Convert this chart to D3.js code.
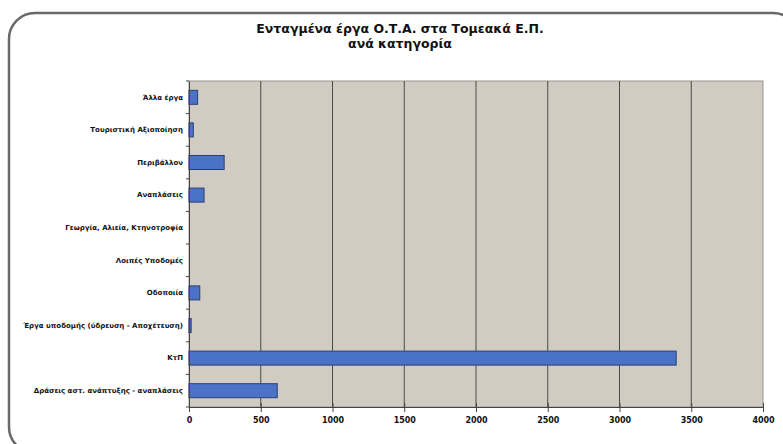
<!DOCTYPE html>
<html><head><meta charset="utf-8">
<script src="https://cdn.jsdelivr.net/npm/d3@7"></script>
<style>body{margin:0;background:#fff}svg{display:block}</style>
</head><body>
<script>
const categories = [
  "Άλλα έργα",
  "Τουριστική Αξιοποίηση",
  "Περιβάλλον",
  "Αναπλάσεις",
  "Γεωργία, Αλιεία, Κτηνοτροφία",
  "Λοιπές Υποδομές",
  "Οδοποιία",
  "Έργα υποδομής (ύδρευση - Αποχέτευση)",
  "ΚτΠ",
  "Δράσεις αστ. ανάπτυξης - αναπλάσεις"
];
const values = [60, 30, 245, 105, 0, 0, 75, 15, 3395, 615];
const xTicks = [0, 500, 1000, 1500, 2000, 2500, 3000, 3500, 4000];
const titleLines = ["Ενταγμένα έργα Ο.Τ.Α. στα Τομεακά Ε.Π.", "ανά κατηγορία"];

const W = 783, H = 444;
const svg = d3.select("body").append("svg").attr("width", W).attr("height", H);
const font = "DejaVu Sans, Verdana, sans-serif";

// outer frame
svg.append("rect").attr("x", 9).attr("y", 13).attr("width", 790).attr("height", 440)
  .attr("rx", 26).attr("ry", 26).attr("fill", "#fff").attr("stroke", "#6a6a6a").attr("stroke-width", 2.5);

const m = {left: 189, right: 763, top: 81, bottom: 407};
const x = d3.scaleLinear().domain([0, 4000]).range([m.left, m.right]);
const y = d3.scaleBand().domain(categories).range([m.top, m.bottom]).paddingInner(0.57).paddingOuter(0.285);

// plot background
svg.append("rect").attr("x", m.left).attr("y", m.top).attr("width", m.right - m.left).attr("height", m.bottom - m.top)
  .attr("fill", "#d0ccc2").attr("stroke", "#9a978f").attr("stroke-width", 1);

// gridlines
svg.append("g").selectAll("line").data(xTicks.slice(1, -1)).join("line")
  .attr("x1", d => x(d)).attr("x2", d => x(d)).attr("y1", m.top).attr("y2", m.bottom)
  .attr("stroke", "#4a4a4a").attr("stroke-width", 1);

// bars
svg.append("g").selectAll("rect").data(categories).join("rect")
  .attr("x", x(0)).attr("y", d => y(d))
  .attr("width", (d, i) => x(values[i]) - x(0)).attr("height", y.bandwidth())
  .attr("fill", "#4a72c6").attr("stroke", "#2b3f78").attr("stroke-width", (d, i) => values[i] > 0 ? 1 : 0);

// x axis
const xAxis = d3.axisBottom(x).tickValues(xTicks).tickSize(5).tickFormat(d3.format("d"));
const gx = svg.append("g").attr("transform", `translate(0,${m.bottom})`).call(xAxis);
gx.select(".domain").attr("stroke", "#444");
gx.selectAll(".tick line").attr("stroke", "#444").attr("y1", -4);
gx.selectAll(".tick text").attr("font-family", font).attr("font-size", 8).attr("font-weight", "bold").attr("fill", "#111").attr("dy", "0.95em");

// y axis
const yAxis = d3.axisLeft(y).tickSize(0).tickPadding(6);
const gy = svg.append("g").attr("transform", `translate(${m.left},0)`).call(yAxis);
gy.select(".domain").attr("stroke", "#444");
gy.selectAll(".tick text").attr("font-family", font).attr("font-size", 7).attr("font-weight", "bold").attr("fill", "#111");
// category boundary ticks
svg.append("g").selectAll("line").data(d3.range(categories.length + 1)).join("line")
  .attr("x1", m.left - 3).attr("x2", m.left)
  .attr("y1", i => m.top + i * (m.bottom - m.top) / categories.length)
  .attr("y2", i => m.top + i * (m.bottom - m.top) / categories.length)
  .attr("stroke", "#444");

// title
svg.append("g").selectAll("text").data(titleLines).join("text")
  .attr("x", 400).attr("y", (d, i) => 33 + i * 15)
  .attr("text-anchor", "middle").attr("font-family", font).attr("font-size", 12.5).attr("font-weight", "bold").attr("fill", "#111")
  .text(d => d);
</script>
</body></html>
